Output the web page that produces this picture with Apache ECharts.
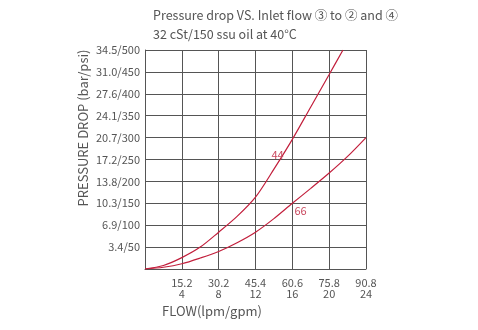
<!DOCTYPE html>
<html>
<head>
<meta charset="utf-8">
<script src="https://cdn.jsdelivr.net/npm/echarts@6/dist/echarts.min.js"></script>
<style>
  html, body { margin: 0; padding: 0; background: #fff; }
  #chart { width: 478px; height: 330px; }
</style>
</head>
<body>
<div id="chart"></div>
<script>
// Axis ticks: flow in gpm with the matching lpm value printed above it
const flowTicksGpm = [4, 8, 12, 16, 20, 24];
const flowTicksLpm = ['15.2', '30.2', '45.4', '60.6', '75.8', '90.8'];
// Pressure ticks in psi with the matching bar value
const pressureTicksPsi = [50, 100, 150, 200, 250, 300, 350, 400, 450, 500];
const pressureTicksBar = ['3.4', '6.9', '10.3', '13.8', '17.2', '20.7', '24.1', '27.6', '31.0', '34.5'];

// Curve "44": flow (gpm) vs pressure drop (psi)
const flow44 = [0, 2, 4, 6, 8, 10, 12, 14, 16, 18, 20, 21.5];
const psi44 = [0, 8, 26, 50, 84, 120, 164, 228, 296, 370, 444, 500];

// Curve "66": flow (gpm) vs pressure drop (psi)
const flow66 = [0, 2, 4, 6, 8, 10, 12, 14, 16, 18, 20, 22, 24];
const psi66 = [0, 4, 12, 25, 40, 60, 84, 115, 150, 184, 219, 257, 300];

// Where the curve names sit, in data units (gpm, psi)
const name44At = [14.4, 261];
const name66At = [16.9, 133];

const lineColor = '#c21f3c';
const gridColor = '#555';
const textColor = '#555';
const fontFamily = '"Noto Sans CJK SC", "Noto Sans", sans-serif';

const zip = (xs, ys) => xs.map((x, i) => [x, ys[i]]);

const chart = echarts.init(document.getElementById('chart'), null, { renderer: 'canvas' });

const curve = (name, data, at) => ({
  name, type: 'line', data, smooth: 0.3,
  showSymbol: false, lineStyle: { color: lineColor, width: 1.2 },
  markPoint: {
    symbol: 'circle', symbolSize: 0,
    label: { show: true, formatter: name, color: '#c9485e', fontSize: 11, fontFamily, position: 'inside' },
    data: [{ coord: at }]
  }
});

chart.setOption({
  animation: false,
  grid: { left: 145, right: 112, top: 50, bottom: 61, show: false },
  xAxis: {
    type: 'value',
    min: 0, max: 24, interval: 4,
    axisLine: { show: true, lineStyle: { color: gridColor, width: 1 } },
    axisTick: { show: false },
    splitLine: { show: true, lineStyle: { color: gridColor, width: 1 } },
    axisLabel: {
      color: textColor, fontSize: 11, fontFamily, lineHeight: 11, margin: 8,
      formatter: v => {
        const i = flowTicksGpm.indexOf(v);
        return i < 0 ? '' : flowTicksLpm[i] + '\n' + flowTicksGpm[i];
      }
    }
  },
  yAxis: {
    type: 'value',
    min: 0, max: 500, interval: 50,
    axisLine: { show: true, lineStyle: { color: gridColor, width: 1 } },
    axisTick: { show: false },
    splitLine: { show: true, lineStyle: { color: gridColor, width: 1 } },
    axisLabel: {
      color: textColor, fontSize: 11, fontFamily, margin: 5,
      formatter: v => {
        const i = pressureTicksPsi.indexOf(v);
        return i < 0 ? '' : pressureTicksBar[i] + '/' + pressureTicksPsi[i];
      }
    }
  },
  series: [
    curve('44', zip(flow44, psi44), name44At),
    curve('66', zip(flow66, psi66), name66At)
  ],
  graphic: [
    {
      type: 'text', left: 153, top: 9,
      style: { text: 'Pressure drop VS. Inlet flow ③ to ② and ④', fill: textColor, font: '12.5px ' + fontFamily }
    },
    {
      type: 'text', left: 153, top: 28,
      style: { text: '32 cSt/150 ssu oil at 40°C', fill: textColor, font: '12.5px ' + fontFamily }
    },
    {
      type: 'text', x: 83, y: 128, rotation: Math.PI / 2,
      style: { text: 'PRESSURE DROP (bar/psi)', fill: textColor, font: '13px ' + fontFamily, align: 'center', verticalAlign: 'middle' }
    },
    {
      type: 'text', x: 212, y: 311,
      style: { text: 'FLOW(lpm/gpm)', fill: textColor, font: '13px ' + fontFamily, align: 'center', verticalAlign: 'middle' }
    }
  ]
});
</script>
</body>
</html>
